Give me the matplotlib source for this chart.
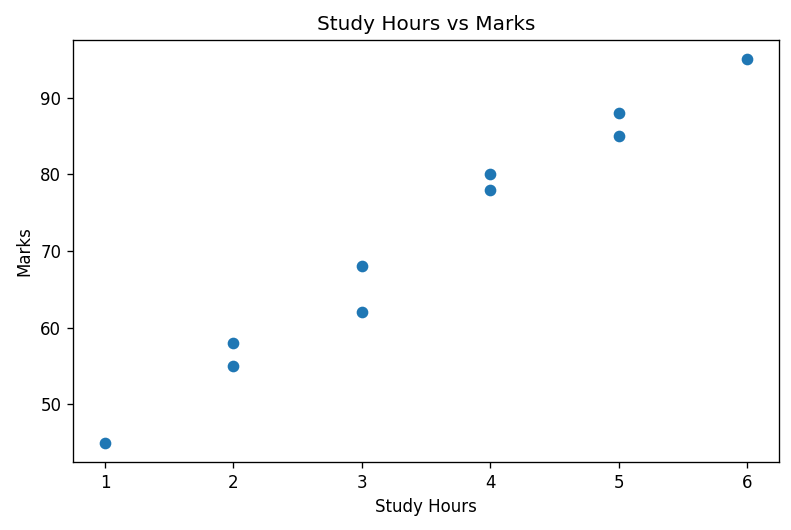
import matplotlib
matplotlib.use("Agg")
import matplotlib.pyplot as plt

hours = [1, 2, 2, 3, 3, 4, 4, 5, 5, 6]
marks = [45, 55, 58, 62, 68, 78, 80, 85, 88, 95]

fig, ax = plt.subplots(figsize=(791 / 120, 530 / 120), dpi=120)
ax.scatter(hours, marks)
ax.set_title("Study Hours vs Marks")
ax.set_xlabel("Study Hours")
ax.set_ylabel("Marks")
fig.subplots_adjust(left=73 / 791, right=779 / 791, top=1 - 40 / 530, bottom=1 - 462 / 530)
fig.savefig("out.png", dpi=120)
